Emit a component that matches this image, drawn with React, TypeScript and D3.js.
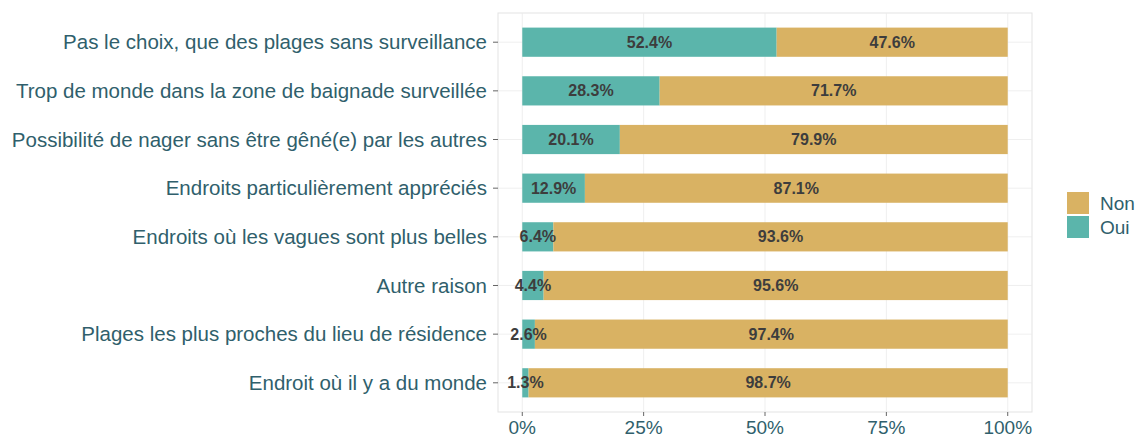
import React from "react";
import * as d3 from "d3";

const categories = [
  "Pas le choix, que des plages sans surveillance",
  "Trop de monde dans la zone de baignade surveillée",
  "Possibilité de nager sans être gêné(e) par les autres",
  "Endroits particulièrement appréciés",
  "Endroits où les vagues sont plus belles",
  "Autre raison",
  "Plages les plus proches du lieu de résidence",
  "Endroit où il y a du monde",
];
const oui = [52.4, 28.3, 20.1, 12.9, 6.4, 4.4, 2.6, 1.3];
const non = [47.6, 71.7, 79.9, 87.1, 93.6, 95.6, 97.4, 98.7];
const xTicks = [0, 25, 50, 75, 100];
const legendItems = [
  { key: "Non", color: "#D9B263" },
  { key: "Oui", color: "#5BB5AB" },
];
const COL_OUI = "#5BB5AB";
const COL_NON = "#D9B263";
const TXT = "#305F6C";

export default function App() {
  const W = 1136, H = 437;
  const pL = 498, pR = 1032, pT = 13, pB = 412;
  const x = d3.scaleLinear().domain([-5, 105]).range([pL, pR]);
  const n = categories.length;
  const y = d3.scaleLinear().domain([0.4, n + 0.6]).range([pT, pB]);
  const bw = (y(1) - y(0)) * 0.6;
  const font = "Liberation Sans, Arial, sans-serif";
  return (
    <svg width={W} height={H} style={{ position: "absolute", left: 0, top: 0, background: "#fff" }}>
      <rect x={pL} y={pT} width={pR - pL} height={pB - pT} fill="none" stroke="#E3E3E3" strokeWidth={1} />
      {xTicks.map((t) => (
        <line key={"g" + t} x1={x(t)} x2={x(t)} y1={pT} y2={pB} stroke="#EBEBEB" strokeWidth={0.8} />
      ))}
      {categories.map((c, i) => (
        <line key={"h" + i} x1={pL} x2={pR} y1={y(i + 1)} y2={y(i + 1)} stroke="#EBEBEB" strokeWidth={0.8} />
      ))}
      {categories.map((c, i) => {
        const yc = y(i + 1);
        return (
          <g key={c}>
            <rect x={x(0)} y={yc - bw / 2} width={x(oui[i]) - x(0)} height={bw} fill={COL_OUI} />
            <rect x={x(oui[i])} y={yc - bw / 2} width={x(oui[i] + non[i]) - x(oui[i])} height={bw} fill={COL_NON} />
            <text x={(x(0) + x(oui[i])) / 2} y={yc} dy="0.35em" textAnchor="middle" fontFamily={font} fontWeight="bold" fontSize={16} fill="#3D3D3D">
              {oui[i].toFixed(1)}%
            </text>
            <text x={(x(oui[i]) + x(100)) / 2} y={yc} dy="0.35em" textAnchor="middle" fontFamily={font} fontWeight="bold" fontSize={16} fill="#3D3D3D">
              {non[i].toFixed(1)}%
            </text>
            <line x1={pL - 5} x2={pL} y1={yc} y2={yc} stroke="#666" strokeWidth={1} />
            <text x={pL - 11} y={yc} dy="0.35em" textAnchor="end" fontFamily={font} fontSize={20.5} fill={TXT}>
              {c}
            </text>
          </g>
        );
      })}
      {xTicks.map((t) => (
        <g key={"t" + t}>
          <line x1={x(t)} x2={x(t)} y1={pB} y2={pB + 4} stroke="#666" strokeWidth={1} />
          <text x={x(t)} y={434} textAnchor="middle" fontFamily={font} fontSize={19} fill={TXT}>
            {t}%
          </text>
        </g>
      ))}
      {legendItems.map((l, i) => (
        <g key={l.key}>
          <rect x={1067} y={192 + i * 24} width={22} height={22} fill={l.color} />
          <text x={1100} y={203 + i * 24} dy="0.35em" fontFamily={font} fontSize={19} fill={TXT}>
            {l.key}
          </text>
        </g>
      ))}
    </svg>
  );
}
